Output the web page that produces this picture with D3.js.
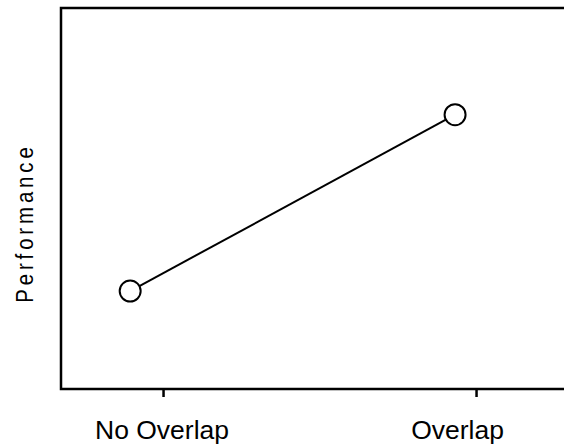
<!DOCTYPE html>
<html><head><meta charset="utf-8">
<script src="https://cdn.jsdelivr.net/npm/d3@7"></script>
<style>body{margin:0;background:#fff;}svg{display:block;}</style>
</head><body>
<script>
const categories = ["No Overlap", "Overlap"];
const categoryPos = [1, 2];
const pointX = [0.895, 1.933];
const performance = [25.7, 72];
const yLabel = "Performance";

(function () {
const W = 564, H = 447;
const mLeft = 61, mTop = 8, mBottom = 389, mRight = 564;
const svg = d3.select("body").append("svg").attr("width", W).attr("height", H);

const x = d3.scaleLinear().domain([0.674, 2.281]).range([mLeft, mRight]);
const y = d3.scaleLinear().domain([0, 100]).range([mBottom, mTop]);

svg.append("path")
  .attr("d", `M${mRight},${mTop}H${mLeft}V${mBottom}H${mRight}`)
  .attr("fill", "none").attr("stroke", "#000").attr("stroke-width", 2.5);

const xAxis = svg.append("g").attr("transform", `translate(0,${mBottom})`)
  .call(d3.axisBottom(x).tickValues(categoryPos).tickSize(8).tickSizeOuter(0)
    .tickFormat((d, i) => categories[i]));
xAxis.select(".domain").remove();
xAxis.selectAll(".tick line").attr("stroke", "#000").attr("stroke-width", 2.5);
xAxis.selectAll(".tick text")
  .attr("font-family", "Liberation Sans, Arial, sans-serif")
  .attr("font-size", 26.5).attr("fill", "#000")
  .attr("y", 31)
  .attr("dx", (d, i) => i === 1 ? -19 : -1.5);

svg.append("text")
  .attr("transform", `translate(33,225) rotate(-90) scale(0.85,1)`)
  .attr("text-anchor", "middle")
  .attr("font-family", "Liberation Sans, Arial, sans-serif")
  .attr("font-size", 24)
  .attr("textLength", 183)
  .attr("lengthAdjust", "spacing")
  .text(yLabel);

const pts = pointX.map((v, i) => [x(v), y(performance[i])]);
svg.append("path").attr("d", d3.line()(pts))
  .attr("fill", "none").attr("stroke", "#000").attr("stroke-width", 2);
svg.selectAll("circle.pt").data(pts).enter().append("circle")
  .attr("cx", d => d[0]).attr("cy", d => d[1]).attr("r", 10.5)
  .attr("fill", "#fff").attr("stroke", "#000").attr("stroke-width", 2);
})();
</script>
</body></html>
